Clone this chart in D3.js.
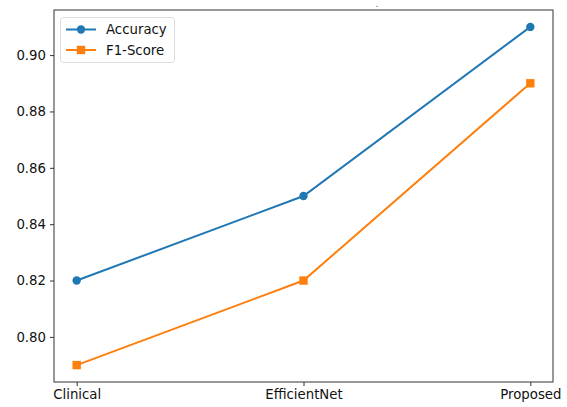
<!DOCTYPE html>
<html><head><meta charset="utf-8">
<script src="https://cdn.jsdelivr.net/npm/d3@7"></script>
<style>body{margin:0;background:#fff}svg{display:block;font-family:"DejaVu Sans",sans-serif}</style>
</head><body>
<svg id="c" width="567" height="407"></svg>
<script>
const categories = ["Clinical", "EfficientNet", "Proposed"];
const accuracy = [0.82, 0.85, 0.91];
const f1score = [0.79, 0.82, 0.89];
const yTicks = [0.80, 0.82, 0.84, 0.86, 0.88, 0.90];
const seriesNames = ["Accuracy", "F1-Score"];
const colors = ["#1f77b4", "#ff7f0e"];

const svg = d3.select("#c");
const L = 54, R = 553, T = 10, B = 382;
const x = d3.scaleLinear().domain([-0.1, 2.1]).range([L, R]);
const y = d3.scaleLinear().domain([0.784, 0.916]).range([B, T]);

// series
const series = [accuracy, f1score];
const line = d3.line().x((d, i) => x(i)).y(d => y(d));
series.forEach((s, k) => {
  svg.append("path").datum(s).attr("d", line).attr("fill", "none")
    .attr("stroke", colors[k]).attr("stroke-width", 2);
  if (k === 0) {
    svg.selectAll(null).data(s).enter().append("circle")
      .attr("cx", (d, i) => x(i)).attr("cy", d => y(d)).attr("r", 4.2).attr("fill", colors[k]);
  } else {
    svg.selectAll(null).data(s).enter().append("rect")
      .attr("x", (d, i) => x(i) - 4.2).attr("y", d => y(d) - 4.2)
      .attr("width", 8.4).attr("height", 8.4).attr("fill", colors[k]);
  }
});

// axes
const xAxis = d3.axisBottom(x).tickValues([0, 1, 2]).tickFormat(i => categories[i]).tickSize(4).tickPadding(4);
const yAxis = d3.axisLeft(y).tickValues(yTicks).tickFormat(d3.format(".2f")).tickSize(4).tickPadding(4);
const gx = svg.append("g").attr("transform", `translate(0,${B})`).call(xAxis);
const gy = svg.append("g").attr("transform", `translate(${L},0)`).call(yAxis);
[gx, gy].forEach(g => {
  g.select(".domain").remove();
  g.selectAll("line").attr("stroke", "#333");
  g.selectAll("text").attr("font-size", 13.3).attr("fill", "#111").attr("font-family", "DejaVu Sans");
});
svg.append("rect").attr("x", L).attr("y", T).attr("width", R - L).attr("height", B - T)
  .attr("fill", "none").attr("stroke", "#333").attr("stroke-width", 1);

// tiny title mark
svg.append("text").attr("x", 377).attr("y", 7).attr("font-size", 8).attr("fill", "#333").attr("text-anchor", "middle").text(".");

// legend
const lg = svg.append("g");
lg.append("rect").attr("x", 60.5).attr("y", 17.5).attr("width", 114).attr("height", 45).attr("rx", 3)
  .attr("fill", "#fff").attr("stroke", "#ddd");
seriesNames.forEach((n, k) => {
  const yy = 29.5 + k * 20.5;
  lg.append("line").attr("x1", 66).attr("x2", 96).attr("y1", yy).attr("y2", yy)
    .attr("stroke", colors[k]).attr("stroke-width", 2);
  if (k === 0) lg.append("circle").attr("cx", 81).attr("cy", yy).attr("r", 4.2).attr("fill", colors[k]);
  else lg.append("rect").attr("x", 81 - 4.2).attr("y", yy - 4.2).attr("width", 8.4).attr("height", 8.4).attr("fill", colors[k]);
  lg.append("text").attr("x", 106).attr("y", yy).attr("dy", "0.35em").attr("font-size", 13.3)
    .attr("fill", "#111").text(n);
});
</script>
</body></html>
